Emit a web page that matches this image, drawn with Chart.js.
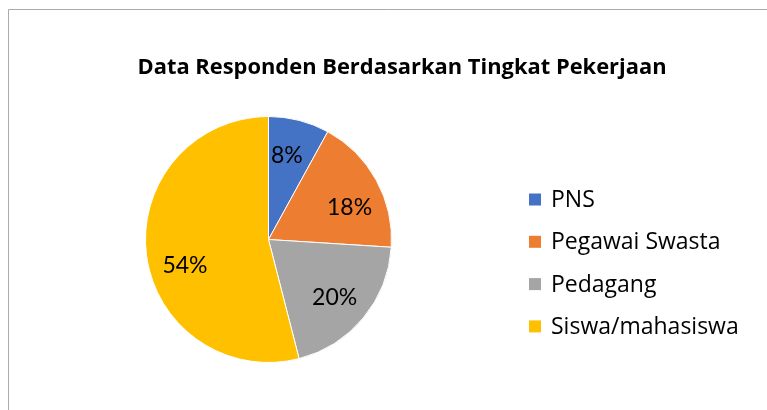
<!DOCTYPE html>
<html>
<head>
<meta charset="utf-8">
<title>Data Responden Berdasarkan Tingkat Pekerjaan</title>
<script src="https://cdn.jsdelivr.net/npm/chart.js@4"></script>
<style>
  body { margin: 0; background: #fff; }
  canvas { display: block; }
</style>
</head>
<body>
<canvas id="pieChart" width="767" height="410"></canvas>
<script>
// ====== DATA ======
const chartTitle = "Data Responden Berdasarkan Tingkat Pekerjaan";
const categories = ["PNS", "Pegawai Swasta", "Pedagang", "Siswa/mahasiswa"];
const percentages = [8, 18, 20, 54];
const sliceColors = ["#4472C4", "#ED7D31", "#A5A5A5", "#FFC000"];

const FONT = "'Open Sans', Lato, sans-serif";
const LABEL_FONT = "Lato, 'Open Sans', sans-serif";

// pick a font size so a sample string gets the wanted width (Calibri stand-in)
function fitSize(c, text, width, weight) {
  c.font = weight + " 20px " + FONT;
  return 20 * width / c.measureText(text).width;
}

// ====== FRAME + TITLE + LEGEND + LABELS ======
const excelLook = {
  id: "excelLook",
  beforeDraw(chart) {
    const c = chart.ctx;
    c.save();
    c.fillStyle = "#fff";
    c.fillRect(0, 0, chart.width, chart.height);
    c.strokeStyle = "#ABABAB";
    c.lineWidth = 1;
    c.beginPath();
    c.moveTo(8.5, chart.height);
    c.lineTo(8.5, 9.5);
    c.lineTo(chart.width, 9.5);
    c.stroke();
    c.restore();
  },
  afterDatasetsDraw(chart) {
    const c = chart.ctx;
    const meta = chart.getDatasetMeta(0);
    const total = percentages.reduce((a, b) => a + b, 0);
    // small angle nudges to mimic Excel "best fit" placement
    const nudge = [-0.04, 0.12, 0.02, -0.17];
    c.save();
    c.fillStyle = "#000";
    c.font = "23px " + LABEL_FONT;
    c.textAlign = "center";
    c.textBaseline = "middle";
    meta.data.forEach((arc, i) => {
      const p = arc.getProps(["x", "y", "startAngle", "endAngle", "outerRadius"], true);
      const mid = (p.startAngle + p.endAngle) / 2 + nudge[i];
      const r = p.outerRadius * 0.71;
      const txt = Math.round(percentages[i] / total * 100) + "%";
      c.fillText(txt, p.x + Math.cos(mid) * r, p.y + Math.sin(mid) * r + 1);
    });
    c.restore();
  },
  afterDraw(chart) {
    const c = chart.ctx;
    c.save();
    // title
    const tSize = fitSize(c, chartTitle, 529, "bold");
    c.fillStyle = "#000";
    c.font = "bold " + tSize.toFixed(1) + "px " + FONT;
    c.textAlign = "center";
    c.textBaseline = "alphabetic";
    c.fillText(chartTitle, 402, 74);
    // legend
    const lSize = fitSize(c, "Siswa/mahasiswa", 188, "normal");
    c.font = lSize.toFixed(1) + "px " + FONT;
    c.textAlign = "left";
    c.textBaseline = "middle";
    categories.forEach((name, i) => {
      const y = 199.5 + i * 42.3;
      c.fillStyle = sliceColors[i];
      c.fillRect(529, y - 6, 12, 12);
      c.fillStyle = "#000";
      c.fillText(name, 551, y + 1);
    });
    c.restore();
  }
};

// ====== PIE (Chart.js) ======
const ctx = document.getElementById("pieChart").getContext("2d");

const pieChart = new Chart(ctx, {
  type: "pie",
  data: {
    labels: categories,
    datasets: [{
      data: percentages,
      backgroundColor: sliceColors,
      borderColor: "#fff",
      borderWidth: 1
    }]
  },
  options: {
    responsive: false,
    animation: false,
    layout: {
      padding: { left: 145, right: 375, top: 116, bottom: 47 }
    },
    plugins: {
      legend: { display: false },
      title: { display: false },
      tooltip: { enabled: false }
    }
  },
  plugins: [excelLook]
});
</script>
</body>
</html>
